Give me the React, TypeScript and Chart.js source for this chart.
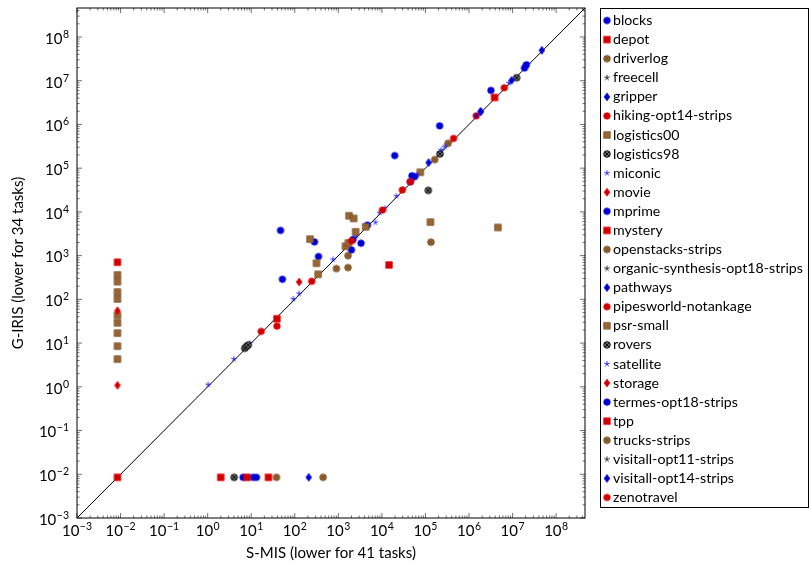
import React, { useEffect, useRef } from "react";
import { Chart, registerables } from "chart.js";

Chart.register(...registerables);

// ---------- data ----------
// tasks whose time is (close to) zero are drawn at the floor value Z
const Z = 0.0085;
const AXIS_MIN = 1e-3;
const AXIS_MAX = 4.6e8;
const DECADES = [-3, -2, -1, 0, 1, 2, 3, 4, 5, 6, 7, 8];

const SERIES_NAMES = [
  "blocks", "depot", "driverlog", "freecell", "gripper", "hiking-opt14-strips",
  "logistics00", "logistics98", "miconic", "movie", "mprime", "mystery",
  "openstacks-strips", "organic-synthesis-opt18-strips", "pathways",
  "pipesworld-notankage", "psr-small", "rovers", "satellite", "storage",
  "termes-opt18-strips", "tpp", "trucks-strips", "visitall-opt11-strips",
  "visitall-opt14-strips", "zenotravel",
];

const blocks = [[6.5, Z], [11.1, Z], [13.2, Z], [49000, 67000], [56500, 64000], [4640, 4980], [1995, 1350], [3320, 1920]];
const depot = [[2.0, Z], [8.05, Z], [3.87e6, 4.14e6]];
const driverlog = [[1670, 1000], [904, 506], [1670, 533], [3.3e5, 3.7e5], [1.63e5, 1.57e5]];
const freecell: number[][] = [];
const gripper = [[4.7e7, 4.95e7], [1.18e5, 1.34e5], [1.85e6, 1.97e6]];
const hiking = [[6.46e6, 6.9e6], [1.47e6, 1.57e6], [4.43e5, 4.8e5]];
const logistics00 = [[7.6e4, 8.05e4], [1.3e5, 5840], [4.6e6, 4400], [1760, 8150], [2250, 7100]];
const logistics98 = [[1.24e7, 1.17e7], [2.15e5, 2.12e5], [1.16e5, 3.1e4], [4.06, Z]];
const miconic = [[1.03, 1.12], [4.0, 4.3], [9.3, 9.96], [93, 102], [126, 135], [245, 259], [757, 815], [2170, 2340], [2600, 2790], [8900, 9530], [1.17e4, 1.2e4], [2.15e4, 2.3e4], [3.05e4, 3.3e4]];
const movie = [[Z, 1.08]];
const mprime = [[47, 3770], [52, 288], [2.12e5, 9.3e5], [1.97e4, 1.94e5], [3.18e6, 6.0e6], [283, 2060], [350, 953]];
const mystery = [[Z, 706], [1.46e4, 612], [24.9, Z], [39, 36]];
const openstacks = [[38, Z], [446, Z]];
const organicSynthesis: number[][] = [];
const pathways = [[209, Z]];
const pipesworld = [[16.9, 18.5], [39, 24.4], [245, 259], [1.03e4, 1.1e4], [2.95e4, 3.16e4]];
const psrSmall = [[Z, 361], [Z, 254], [Z, 147], [Z, 102], [Z, 43], [Z, 29], [Z, 16.9], [Z, 8.5], [Z, 4.3], [224, 2380], [315, 670], [343, 374], [1455, 1640], [1700, 1950], [2500, 3500], [4250, 4550]];
const rovers = [[7.1, 7.6], [7.8, 8.4], [8.5, 9.0]];
const satellite = [[7100, 5740], [6.4e4, 7.0e4], [2.3e5, 2.6e5], [2.75e5, 3.1e5], [1.47e6, 1.57e6], [8.2e6, 8.85e6], [2.24e7, 2.45e7]];
const storage = [[Z, 55], [126, 250]];
const termes = [[2.06e7, 2.3e7], [1.88e7, 1.95e7], [4.5e4, 4.9e4], [2170, 2340]];
const tpp = [[Z, Z]];
const trucks = [[1.34e5, 2030]];
const visitall11: number[][] = [];
const visitall14 = [[9.5e6, 1.02e7], [1.85e6, 1.97e6]];
const zenotravel = [[4.5e4, 4.9e4], [2000, 2170]];

const SERIES_DATA = [
  blocks, depot, driverlog, freecell, gripper, hiking, logistics00, logistics98,
  miconic, movie, mprime, mystery, openstacks, organicSynthesis, pathways,
  pipesworld, psrSmall, rovers, satellite, storage, termes, tpp, trucks,
  visitall11, visitall14, zenotravel,
];

const X_TITLE = "S-MIS (lower for 41 tasks)";
const Y_TITLE = "G-IRIS (lower for 34 tasks)";

// ---------- styles ----------
type Shape = "circle" | "square" | "otimes" | "star" | "diamond";
interface Sty { shape: Shape; stroke: string; fill: string; }
const CYCLE: Sty[] = [
  { shape: "circle", stroke: "rgb(0,0,255)", fill: "rgb(0,0,204)" },
  { shape: "square", stroke: "rgb(255,0,0)", fill: "rgb(204,0,0)" },
  { shape: "otimes", stroke: "rgb(115,77,38)", fill: "rgb(153,102,51)" },
  { shape: "star", stroke: "#000", fill: "#000" },
  { shape: "diamond", stroke: "rgb(0,0,255)", fill: "rgb(0,0,204)" },
  { shape: "circle", stroke: "rgb(255,0,0)", fill: "rgb(204,0,0)" },
  { shape: "square", stroke: "rgb(115,77,38)", fill: "rgb(153,102,51)" },
  { shape: "otimes", stroke: "#000", fill: "rgb(110,110,110)" },
  { shape: "star", stroke: "rgb(0,0,255)", fill: "rgb(0,0,255)" },
  { shape: "diamond", stroke: "rgb(255,0,0)", fill: "rgb(204,0,0)" },
];

const FONT = "Lato, 'DejaVu Sans', sans-serif";
const BASE_FONT = `15px ${FONT}`;
const EXP_FONT = `10.5px ${FONT}`;

function makeMarker(s: Sty): HTMLCanvasElement {
  const size = 12;
  const c = document.createElement("canvas");
  c.width = size;
  c.height = size;
  const g = c.getContext("2d")!;
  const cx = size / 2, cy = size / 2;
  const r = 3.3;
  g.lineWidth = 0.7;
  g.strokeStyle = s.stroke;
  g.fillStyle = s.fill;
  g.beginPath();
  if (s.shape === "circle" || s.shape === "otimes") {
    g.arc(cx, cy, r, 0, Math.PI * 2);
    g.fill();
    g.lineWidth = s.shape === "otimes" ? 0.9 : 0.7;
    g.stroke();
    if (s.shape === "otimes") {
      const d = r * Math.SQRT1_2;
      g.beginPath();
      g.moveTo(cx - d, cy - d); g.lineTo(cx + d, cy + d);
      g.moveTo(cx - d, cy + d); g.lineTo(cx + d, cy - d);
      g.stroke();
    }
  } else if (s.shape === "square") {
    g.rect(cx - r, cy - r, 2 * r, 2 * r);
    g.fill();
    g.stroke();
  } else if (s.shape === "diamond") {
    const h = 3.9, w = 0.75 * 3.9;
    g.moveTo(cx, cy - h); g.lineTo(cx + w, cy); g.lineTo(cx, cy + h); g.lineTo(cx - w, cy);
    g.closePath();
    g.fill();
    g.stroke();
  } else {
    g.lineWidth = 0.8;
    for (let k = 0; k < 5; k++) {
      const a = -Math.PI / 2 + (k * 2 * Math.PI) / 5;
      g.moveTo(cx, cy);
      g.lineTo(cx + 3.0 * Math.cos(a), cy + 3.0 * Math.sin(a));
    }
    g.stroke();
  }
  return c;
}

function supText(ctx: CanvasRenderingContext2D, e: number) {
  const base = "10";
  const exp = e < 0 ? "\u2212" + Math.abs(e) : String(e);
  ctx.font = BASE_FONT;
  const wb = ctx.measureText(base).width;
  ctx.font = EXP_FONT;
  const we = ctx.measureText(exp).width;
  return { base, exp, wb, we };
}

export default function App() {
  const ref = useRef<HTMLCanvasElement | null>(null);

  useEffect(() => {
    if (!ref.current) return;
    const markers = CYCLE.map(makeMarker);

    const datasets: any[] = SERIES_DATA.map((pts, i) => ({
      type: "scatter",
      label: SERIES_NAMES[i],
      data: pts.map(([x, y]) => ({ x, y })),
      pointStyle: markers[i % 10],
      pointRadius: 3.5,
      order: -i,
    }));
    datasets.push({
      type: "line",
      label: "diagonal",
      data: [{ x: AXIS_MIN, y: AXIS_MIN }, { x: AXIS_MAX, y: AXIS_MAX }],
      borderColor: "#000",
      borderWidth: 1,
      pointRadius: 0,
      showLine: true,
      order: 100,
    });

    const frame = {
      id: "frame",
      afterDraw(chart: any) {
        const { ctx, chartArea } = chart;
        const { left, right, top, bottom } = chartArea;
        const xs = chart.scales.x, ys = chart.scales.y;
        ctx.save();
        // minor + major ticks on all four sides (inward)
        ctx.strokeStyle = "#333";
        ctx.lineWidth = 0.7;
        ctx.beginPath();
        for (const e of DECADES) {
          for (let m = 1; m <= 9; m++) {
            const v = m * Math.pow(10, e);
            if (v < AXIS_MIN || v > AXIS_MAX) continue;
            const len = m === 1 ? 5 : 2.5;
            const px = xs.getPixelForValue(v);
            ctx.moveTo(px, bottom); ctx.lineTo(px, bottom - len);
            ctx.moveTo(px, top); ctx.lineTo(px, top + len);
            const py = ys.getPixelForValue(v);
            ctx.moveTo(left, py); ctx.lineTo(left + len, py);
            ctx.moveTo(right, py); ctx.lineTo(right - len, py);
          }
        }
        ctx.stroke();
        // border
        ctx.strokeStyle = "#000";
        ctx.lineWidth = 1;
        ctx.strokeRect(left, top, right - left, bottom - top);

        // tick labels
        ctx.fillStyle = "#000";
        ctx.textBaseline = "middle";
        ctx.textAlign = "left";
        for (const e of DECADES) {
          const v = Math.pow(10, e);
          const t = supText(ctx, e);
          // x labels
          const px = xs.getPixelForValue(v);
          const x0 = px - (t.wb + t.we + 0.5) / 2;
          ctx.font = BASE_FONT;
          ctx.fillText(t.base, x0, bottom + 13);
          ctx.font = EXP_FONT;
          ctx.fillText(t.exp, x0 + t.wb + 0.5, bottom + 8.5);
          // y labels
          const py = ys.getPixelForValue(v);
          const xr = left - 8;
          ctx.font = BASE_FONT;
          ctx.fillText(t.base, xr - t.we - 0.5 - t.wb, py + 2);
          ctx.font = EXP_FONT;
          ctx.fillText(t.exp, xr - t.we, py - 2.5);
        }

        // legend
        const lx = 600, ly = 8, lw = 208, lh = 499;
        ctx.strokeStyle = "#000";
        ctx.lineWidth = 1;
        ctx.strokeRect(lx + 0.5, ly + 0.5, lw, lh);
        ctx.font = `14.2px ${FONT}`;
        ctx.textAlign = "left";
        ctx.textBaseline = "middle";
        SERIES_NAMES.forEach((name, i) => {
          const cy = 20.5 + i * 19.08;
          const mk = markers[i % 10];
          ctx.drawImage(mk, 607 - mk.width / 2, cy - mk.height / 2);
          ctx.fillStyle = "#000";
          ctx.fillText(name, 613, cy);
        });
        ctx.restore();
      },
    };

    const chart = new Chart(ref.current, {
      type: "scatter",
      data: { datasets },
      options: {
        animation: false,
        responsive: false,
        layout: { padding: { top: 8, right: 225, left: 0, bottom: 0 } },
        plugins: { legend: { display: false }, tooltip: { enabled: false } },
        scales: {
          x: {
            type: "logarithmic",
            min: AXIS_MIN,
            max: AXIS_MAX,
            grid: { display: false },
            border: { display: false },
            ticks: { display: false },
            title: {
              display: true,
              text: X_TITLE,
              color: "#000",
              font: { family: FONT, size: 15 },
              padding: { top: 0, bottom: 2 },
            },
            afterFit(scale: any) { scale.height = 46; },
          },
          y: {
            type: "logarithmic",
            min: AXIS_MIN,
            max: AXIS_MAX,
            grid: { display: false },
            border: { display: false },
            ticks: { display: false },
            title: {
              display: true,
              text: Y_TITLE,
              color: "#000",
              font: { family: FONT, size: 15 },
              padding: { top: 9, bottom: 0 },
            },
            afterFit(scale: any) { scale.width = 77; },
          },
        },
      },
      plugins: [frame],
    });
    return () => chart.destroy();
  }, []);

  return (
    <div style={{ position: "fixed", left: 0, top: 0, width: 810, height: 564, background: "#fff" }}>
      <canvas ref={ref} width={810} height={564} style={{ width: 810, height: 564, display: "block" }} />
    </div>
  );
}
